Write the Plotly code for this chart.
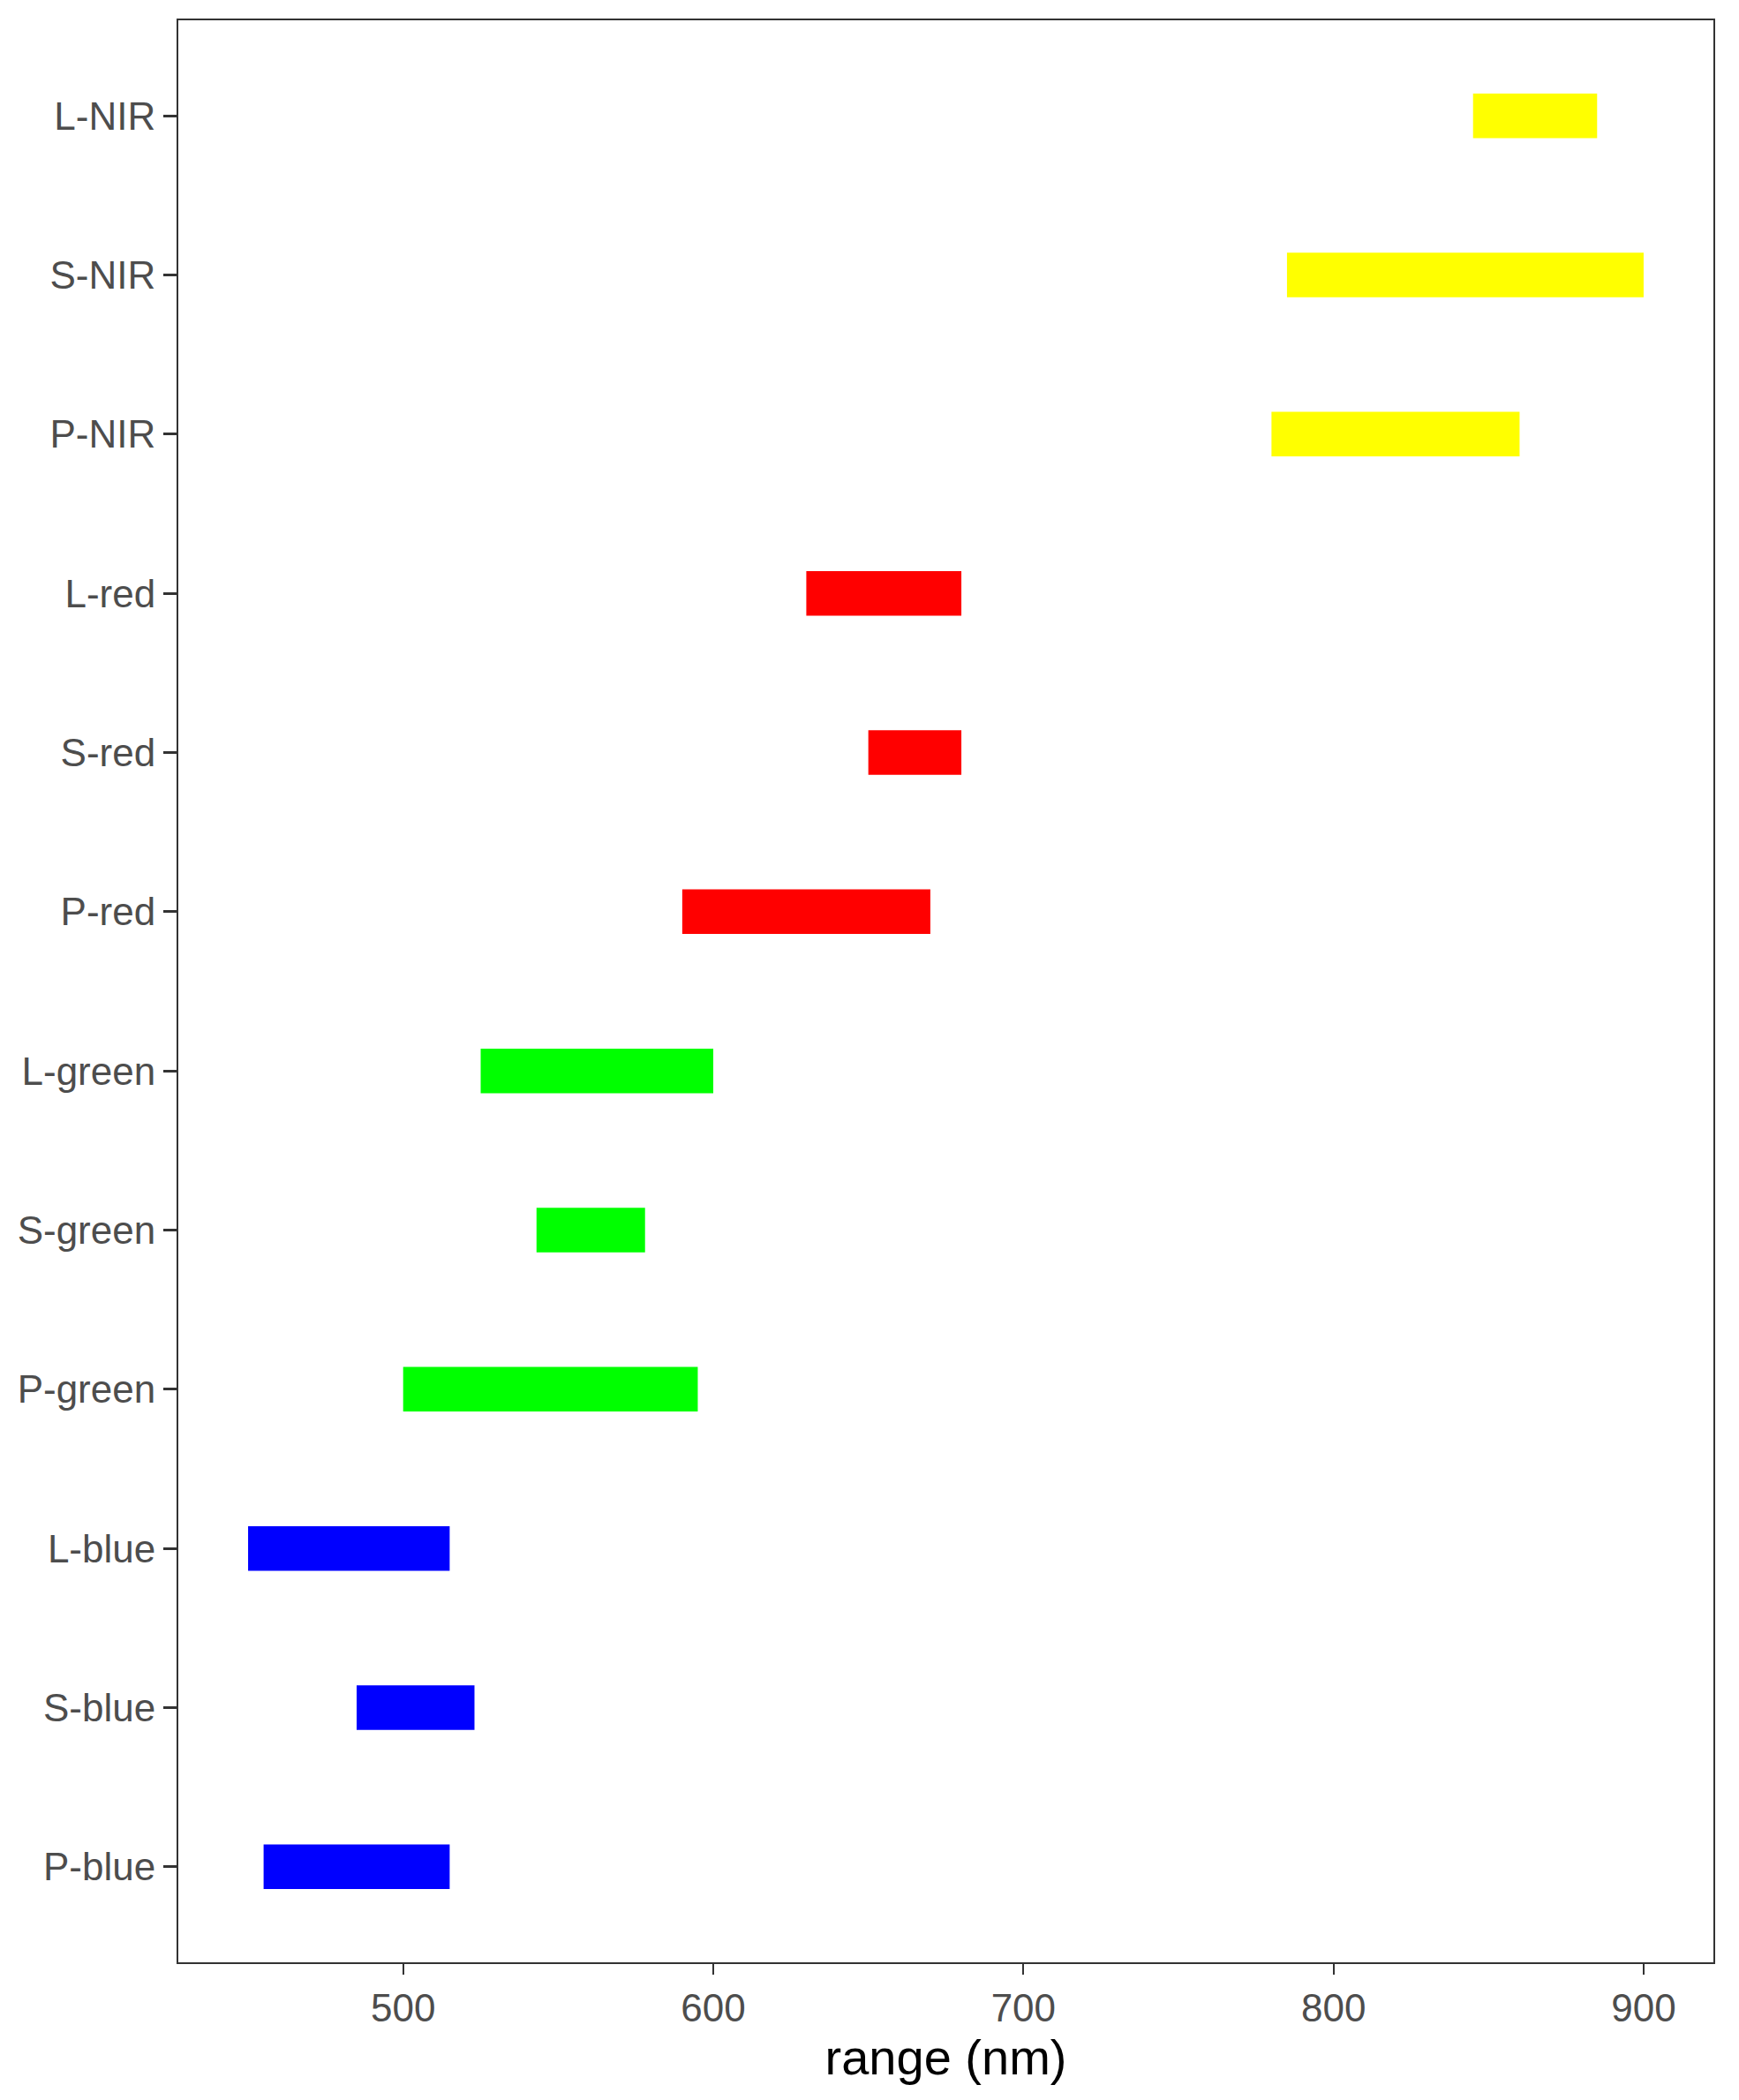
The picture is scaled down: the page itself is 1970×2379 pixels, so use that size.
import plotly.graph_objects as go

# Categories (bottom to top)
categories = ["P-blue", "S-blue", "L-blue",
              "P-green", "S-green", "L-green",
              "P-red", "S-red", "L-red",
              "P-NIR", "S-NIR", "L-NIR"]
range_start = [455, 485, 450,
               500, 543, 525,
               590, 650, 630,
               780, 785, 845]
range_end = [515, 523, 515,
             595, 578, 600,
             670, 680, 680,
             860, 900, 885]
band_colors = ["#0000FF", "#0000FF", "#0000FF",
               "#00FF00", "#00FF00", "#00FF00",
               "#FF0000", "#FF0000", "#FF0000",
               "#FFFF00", "#FFFF00", "#FFFF00"]
x_ticks = [500, 600, 700, 800, 900]

widths = [e - s for s, e in zip(range_start, range_end)]

fig = go.Figure()
fig.add_trace(go.Bar(
    y=categories,
    x=widths,
    base=range_start,
    orientation="h",
    width=0.28,
    marker=dict(color=band_colors, line=dict(width=0)),
    showlegend=False,
    hoverinfo="skip",
))

font_family = "Liberation Sans, Arial, sans-serif"

fig.update_layout(
    width=1970,
    height=2379,
    margin=dict(l=194, r=37, t=15, b=164),
    paper_bgcolor="white",
    plot_bgcolor="white",
    font=dict(family=font_family, color="#4D4D4D", size=44),
    xaxis=dict(
        range=[427.5, 922.5],
        tickvals=x_ticks,
        ticktext=[str(v) for v in x_ticks],
        showgrid=False,
        zeroline=False,
        showline=True,
        mirror=True,
        linecolor="#333333",
        linewidth=2,
        ticks="outside",
        ticklen=12,
        tickwidth=2,
        tickcolor="#333333",
        automargin=False,
        tickfont=dict(size=44, color="#4D4D4D", family=font_family),
        title=dict(text="range (nm)", font=dict(size=56, color="black", family=font_family), standoff=4),
    ),
    yaxis=dict(
        type="category",
        categoryorder="array",
        categoryarray=categories,
        range=[-0.6, 11.6],
        showgrid=False,
        zeroline=False,
        showline=True,
        mirror=True,
        linecolor="#333333",
        linewidth=2,
        ticks="outside",
        ticklen=15,
        tickwidth=3,
        tickcolor="#333333",
        ticklabelstandoff=0,
        automargin=False,
        tickfont=dict(size=44, color="#4D4D4D", family=font_family),
    ),
)

fig.write_html("out.html")
